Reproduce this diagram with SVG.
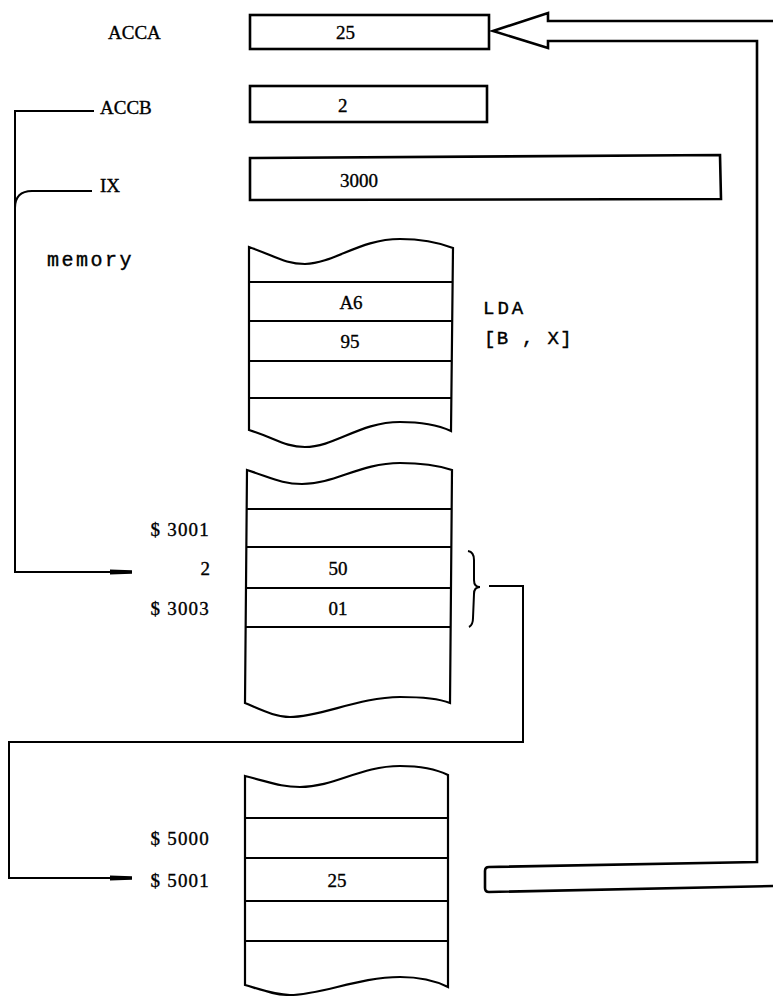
<svg xmlns="http://www.w3.org/2000/svg" width="773" height="996" viewBox="0 0 773 996">
<style>
.reg{fill:none;stroke:#000;stroke-width:2.6}
.mem{fill:none;stroke:#000;stroke-width:2.2}
.ln{fill:none;stroke:#000;stroke-width:2}
.t{font-family:"Liberation Serif",serif;font-size:19px;fill:#000;stroke:#000;stroke-width:0.35}
.c{text-anchor:middle}
.r{text-anchor:end}
.a{letter-spacing:1.2px}
.m{font-family:"Liberation Mono",monospace;font-size:19px;fill:#000;stroke:#000;stroke-width:0.4}
</style>
<defs>
<marker id="wedge" viewBox="0 0 22 6" refX="22" refY="3" markerWidth="22" markerHeight="6" markerUnits="userSpaceOnUse" orient="auto">
<path d="M0,0.6 L22,1.2 L22,4.8 L0,5.4 Z" fill="#000"/>
</marker>
</defs>
<rect width="773" height="996" fill="#fff"/>

<g id="acca">
<text class="t" x="108" y="39">ACCA</text>
<rect class="reg" x="250" y="15" width="239" height="34"/>
<text class="t" x="336" y="39">25</text>
</g>

<g id="accb">
<text class="t" x="100" y="114">ACCB</text>
<rect class="reg" x="250" y="86" width="237" height="36"/>
<text class="t" x="338" y="112">2</text>
</g>

<g id="ix">
<text class="t" x="100" y="192">IX</text>
<path class="reg" d="M250,158 L720,155 L721,199 L250,200 Z"/>
<text class="t" x="340" y="187">3000</text>
</g>

<g id="memory-label">
<text class="m" x="47" y="266" style="letter-spacing:2.5px;font-size:20px">memory</text>
</g>

<g id="mem1">
<path class="mem" d="M249,247 C275,256 285,264 305,264 C335,263 360,239 400,239 C425,239 440,243 453,248 L451,431 C440,426 425,422 400,422 C360,422 335,447 305,447 C285,447 275,438 249,430 Z"/>
<path class="ln" d="M249,282 H452 M249,321 H452 M249,361 H452 M249,398 H451"/>
<text class="t c" x="351" y="309">A6</text>
<text class="t c" x="350" y="348">95</text>
</g>

<g id="lda">
<text class="m" x="483" y="314" style="letter-spacing:3px">LDA</text>
<text class="m" x="484" y="344" style="letter-spacing:1.3px">[B , X]</text>
</g>

<g id="mem2">
<path class="mem" d="M247,470 C272,478 282,484 302,484 C335,484 360,463 400,463 C425,463 440,466 452,470 L450,703 C440,699 425,697 400,697 C360,697 320,717 290,717 C275,717 262,710 245,703 Z"/>
<path class="ln" d="M247,509 H452 M247,547 H452 M247,588 H451 M246,627 H451"/>
<text class="t r a" x="210" y="536">$ 3001</text>
<text class="t r" x="210" y="575">2</text>
<text class="t r a" x="210" y="615">$ 3003</text>
<text class="t c" x="338" y="575">50</text>
<text class="t c" x="338" y="615">01</text>
<path class="ln" d="M468,551 Q474,552 474,560 L474,580 Q474,587 480,587 Q474,587 474,594 L473,618 Q473,625 469,627"/>
</g>

<g id="mem3">
<path class="mem" d="M245,776 C270,782 280,787 300,787 C335,787 360,766 400,766 C425,766 438,770 448,775 L448,987 C438,982 425,977 400,977 C360,977 320,995 290,995 C275,995 262,990 245,985 Z"/>
<path class="ln" d="M245,818 H448 M245,858 H448 M245,901 H448 M245,941 H448"/>
<text class="t r a" x="210" y="845">$ 5000</text>
<text class="t r a" x="210" y="887">$ 5001</text>
<text class="t c" x="337" y="887">25</text>
</g>

<g id="connectors">
<path class="ln" d="M94,111 H15 V572 H132" marker-end="url(#wedge)"/>
<path class="ln" d="M92,191 H32 Q15,191 15,208"/>
<path class="ln" d="M489,586 H523 V742 H9 V878 H132" marker-end="url(#wedge)"/>
<path class="reg" d="M773,21 H548 V13 L493,31 L548,48 V41 H757 V862 L489,867 Q485,867 485,871 V888 Q485,892 489,892 L773,886"/>
</g>
</svg>
